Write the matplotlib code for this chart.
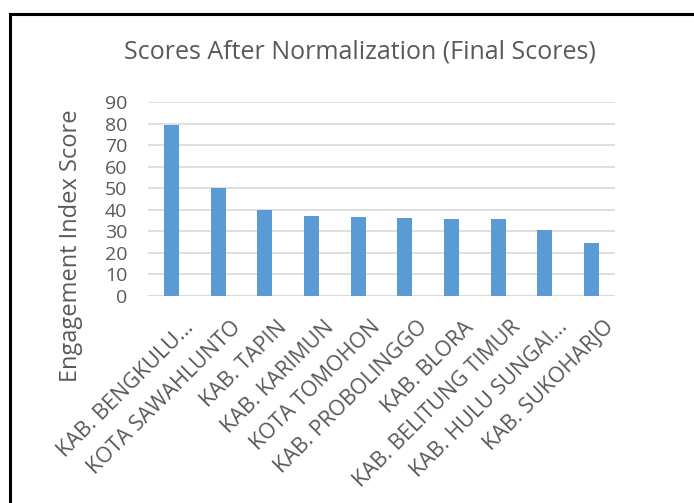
import matplotlib
matplotlib.use("Agg")
import matplotlib.pyplot as plt
import matplotlib.transforms as mtransforms
from matplotlib.patches import Rectangle

regions = ["KAB. BENGKULU...", "KOTA SAWAHLUNTO", "KAB. TAPIN", "KAB. KARIMUN",
           "KOTA TOMOHON", "KAB. PROBOLINGGO", "KAB. BLORA", "KAB. BELITUNG TIMUR",
           "KAB. HULU SUNGAI...", "KAB. SUKOHARJO"]
scores = [79.5, 50.3, 40.1, 36.9, 36.6, 36.3, 35.9, 35.9, 30.8, 24.6]
yticks = [0, 10, 20, 30, 40, 50, 60, 70, 80, 90]

BAR = "#5B9BD5"
GRID = "#D9D9D9"
TEXT = "#595959"

plt.rcParams["font.family"] = ["Open Sans", "DejaVu Sans"]

W, H = 694, 503
fig = plt.figure(figsize=(W / 100, H / 100), dpi=100)
ax = fig.add_axes([148 / W, 1 - 296 / H, (615 - 148) / W, (296 - 102) / H])

x = range(len(regions))
ax.bar(x, scores, width=0.32, color=BAR, zorder=3)

ax.set_ylim(0, 90)
ax.set_xlim(-0.5, len(regions) - 0.5)
ax.set_yticks(yticks)
ax.yaxis.grid(True, color=GRID, linewidth=1.2, zorder=0)
for s in ax.spines.values():
    s.set_visible(False)
ax.axhline(0, color=GRID, linewidth=1.2, zorder=1)
ax.tick_params(axis="both", length=0, colors=TEXT)
ax.tick_params(axis="y", labelsize=14, pad=15)
ax.set_xticks(list(x))
ax.set_xticklabels(regions, rotation=45, ha="right", va="top",
                   rotation_mode="anchor", fontsize=15.5, color=TEXT)
ax.tick_params(axis="x", pad=15)
shift = mtransforms.ScaledTranslation(12 / 100, 0, fig.dpi_scale_trans)
for lbl in ax.get_xticklabels():
    lbl.set_transform(lbl.get_transform() + shift)

ax.set_ylabel("Engagement Index Score", fontsize=17, color=TEXT)
ax.yaxis.set_label_coords(-0.14, 0.26)

fig.text(360 / W, 1 - 52 / H, "Scores After Normalization (Final Scores)",
         ha="center", va="center", fontsize=18, color=TEXT)

# outer frame
fig.patches.append(Rectangle((10 / W, -0.1), 1.2, 1 - 14 / H + 0.1,
                             transform=fig.transFigure, fill=False,
                             edgecolor="black", linewidth=2.2))

fig.savefig("out.png", dpi=100, facecolor="white")
